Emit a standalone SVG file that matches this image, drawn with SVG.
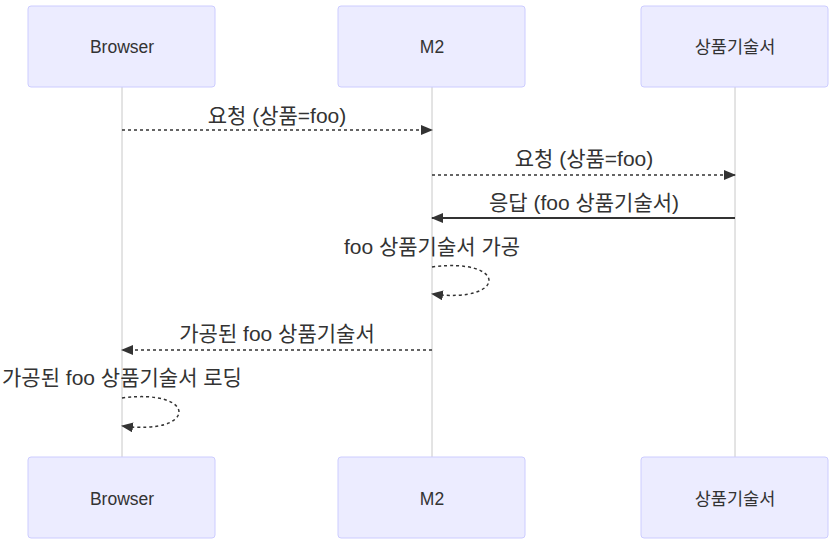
<svg xmlns="http://www.w3.org/2000/svg" width="833" height="545" viewBox="0 0 833 545">
<defs>
<style>
.actor{fill:#ECECFF;stroke:#CCCCFF;stroke-width:1}
.atext{font-family:"Liberation Sans","Noto Sans CJK KR",sans-serif;font-size:17.5px;fill:#333;text-anchor:middle;dominant-baseline:central}
.life{stroke:#c8c8c8;stroke-width:1}
.msg{fill:none;stroke:#333;stroke-width:1.5}
.dot{stroke-dasharray:3,3}
.solid{stroke-width:2}
.mtext{font-family:"Liberation Sans","Noto Sans CJK KR",sans-serif;font-size:21px;fill:#333;text-anchor:middle;dominant-baseline:central}
</style>
<marker id="arrow" viewBox="0 0 12 10" refX="11" refY="5" markerWidth="12" markerHeight="10" markerUnits="userSpaceOnUse" orient="auto">
<path d="M0,0 L12,5 L0,10 z" fill="#333"/>
</marker>
</defs>
<rect width="833" height="545" fill="#fff"/>
<g id="lifelines">
<line class="life" x1="122" y1="87" x2="122" y2="457"/>
<line class="life" x1="432" y1="87" x2="432" y2="457"/>
<line class="life" x1="735" y1="87" x2="735" y2="457"/>
</g>
<g id="actor-browser-top"><rect class="actor" x="28" y="6" width="187" height="81" rx="3"/><text class="atext" x="122" y="47">Browser</text></g>
<g id="actor-m2-top"><rect class="actor" x="338" y="6" width="187" height="81" rx="3"/><text class="atext" x="432" y="47">M2</text></g>
<g id="actor-spec-top"><rect class="actor" x="641" y="6" width="187" height="81" rx="3"/><text class="atext" x="735" y="47">상품기술서</text></g>
<g id="actor-browser-bottom"><rect class="actor" x="28" y="457" width="187" height="81" rx="3"/><text class="atext" x="122" y="499">Browser</text></g>
<g id="actor-m2-bottom"><rect class="actor" x="338" y="457" width="187" height="81" rx="3"/><text class="atext" x="432" y="499">M2</text></g>
<g id="actor-spec-bottom"><rect class="actor" x="641" y="457" width="187" height="81" rx="3"/><text class="atext" x="735" y="499">상품기술서</text></g>
<g id="connectors">
<line class="msg dot" x1="122" y1="130" x2="432" y2="130" marker-end="url(#arrow)"/>
<line class="msg dot" x1="432" y1="175" x2="735" y2="175" marker-end="url(#arrow)"/>
<line class="msg solid" x1="735" y1="218" x2="432" y2="218" marker-end="url(#arrow)"/>
<path class="msg dot" d="M432,267 C508,257 508,304 432,294" marker-end="url(#arrow)"/>
<line class="msg dot" x1="432" y1="350" x2="122" y2="350" marker-end="url(#arrow)"/>
<path class="msg dot" d="M122,398 C198,388 198,436 122,426" marker-end="url(#arrow)"/>
</g>
<g id="labels">
<text class="mtext" x="277" y="115">요청 (상품=foo)</text>
<text class="mtext" x="584" y="158">요청 (상품=foo)</text>
<text class="mtext" x="584" y="202">응답 (foo 상품기술서)</text>
<text class="mtext" x="432" y="246">foo 상품기술서 가공</text>
<text class="mtext" x="277" y="333">가공된 foo 상품기술서</text>
<text class="mtext" x="122" y="377">가공된 foo 상품기술서 로딩</text>
</g>
</svg>
